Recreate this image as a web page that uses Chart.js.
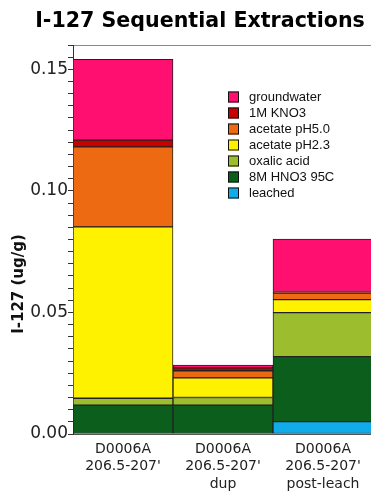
<!DOCTYPE html>
<html>
<head>
<meta charset="utf-8">
<script src="https://cdn.jsdelivr.net/npm/chart.js@4.4.1/dist/chart.umd.min.js"></script>
<style>
  html, body { margin: 0; padding: 0; background: #fff; overflow: hidden; }
  #wrap { position: relative; width: 400px; height: 493px; }
</style>
</head>
<body>
<div id="wrap"><canvas id="chart" width="400" height="493"></canvas></div>
<script>
// Sample labels (multi-line)
const categories = [
  ["D0006A", "206.5-207'"],
  ["D0006A", "206.5-207'", "dup"],
  ["D0006A", "206.5-207'", "post-leach"]
];

// I-127 per extraction step (ug/g), listed bottom of stack first
const leached     = [0.0,    0.0,    0.0051];
const hno3_8M     = [0.0119, 0.0119, 0.0267];
const oxalicAcid  = [0.0028, 0.0031, 0.0181];
const acetate23   = [0.0705, 0.0081, 0.0054];
const acetate50   = [0.0329, 0.0029, 0.0027];
const kno3_1M     = [0.0028, 0.0012, 0.0006];
const groundwater = [0.0332, 0.0012, 0.0216];

const seriesNames = ["leached", "8M HNO3 95C", "oxalic acid", "acetate pH2.3", "acetate pH5.0", "1M KNO3", "groundwater"];
const seriesData  = [leached, hno3_8M, oxalicAcid, acetate23, acetate50, kno3_1M, groundwater];
const seriesColors = ["#10ACEA", "#0B5E1B", "#9CBE2E", "#FEF200", "#EE6A12", "#C90000", "#FF1070"];

const yTickValues = [0, 0.05, 0.10, 0.15];

const datasets = seriesNames.map((name, i) => ({
  label: name,
  data: seriesData[i],
  backgroundColor: seriesColors[i],
  borderColor: "#222",
  borderWidth: 1,
  borderSkipped: false,
  barPercentage: 1.0,
  categoryPercentage: 1.0
}));

// Legend boxed list inside the plot, plus rotated axis title
const overlay = {
  id: "overlay",
  afterDraw(chart) {
    const ctx = chart.ctx;
    ctx.save();
    // legend, top of stack first
    const items = chart.data.datasets.slice().reverse();
    ctx.font = "13px 'Liberation Sans', Arial, sans-serif";
    ctx.textBaseline = "middle";
    ctx.textAlign = "left";
    items.forEach((ds, i) => {
      const cy = 97 + i * 16;
      ctx.fillStyle = ds.backgroundColor;
      ctx.fillRect(228, cy - 5.5, 11, 11);
      ctx.strokeStyle = "#111";
      ctx.lineWidth = 1;
      ctx.strokeRect(228.5, cy - 5, 10, 10);
      ctx.fillStyle = "#111";
      ctx.fillText(ds.label, 249, cy + 0.5);
    });
    // y axis title
    ctx.translate(19, 284);
    ctx.rotate(-Math.PI / 2);
    ctx.font = "bold 15px 'DejaVu Sans', sans-serif";
    ctx.textAlign = "center";
    ctx.fillStyle = "#111";
    ctx.fillText("I-127 (ug/g)", 0, 0);
    ctx.restore();
  }
};

new Chart(document.getElementById("chart"), {
  type: "bar",
  data: { labels: categories, datasets },
  plugins: [overlay],
  options: {
    responsive: false,
    devicePixelRatio: 1,
    animation: false,
    layout: { padding: { left: 27, right: 27, top: 0, bottom: 0 } },
    plugins: {
      legend: { display: false },
      tooltip: { enabled: false },
      title: {
        display: true,
        text: "I-127 Sequential Extractions",
        color: "#000",
        font: { family: "'DejaVu Sans', sans-serif", size: 20.6, weight: "bold", lineHeight: 1.2 },
        padding: { top: 9.5, bottom: 10.8 }
      }
    },
    scales: {
      x: {
        stacked: true,
        grid: { display: false, drawTicks: false },
        border: { display: true, color: "#555", width: 1 },
        ticks: {
          color: "#222",
          padding: 6.5,
          maxRotation: 0,
          autoSkip: false,
          font: { family: "'DejaVu Sans', sans-serif", size: 14, lineHeight: 1.25 }
        },
        afterFit(scale) { scale.height = 59; }
      },
      y: {
        stacked: true,
        min: 0,
        max: 0.16,
        grid: {
          display: true,
          drawOnChartArea: true,
          drawTicks: true,
          tickLength: 5,
          tickColor: "#333",
          color: (c) => (c.tick && Math.abs(c.tick.value - 0.16) < 1e-9) ? "#888" : "rgba(0,0,0,0)",
          lineWidth: 1
        },
        border: { display: true, color: "#333", width: 1 },
        ticks: {
          stepSize: 0.005,
          autoSkip: false,
          padding: 0,
          color: "#222",
          font: { family: "'DejaVu Sans', sans-serif", size: 17 },
          callback: (v) => {
            const hit = yTickValues.find(t => Math.abs(t - v) < 1e-9);
            return hit !== undefined ? hit.toFixed(2) : "";
          }
        },
        afterFit(scale) { scale.width = 46; }
      }
    }
  }
});
</script>
</body>
</html>
